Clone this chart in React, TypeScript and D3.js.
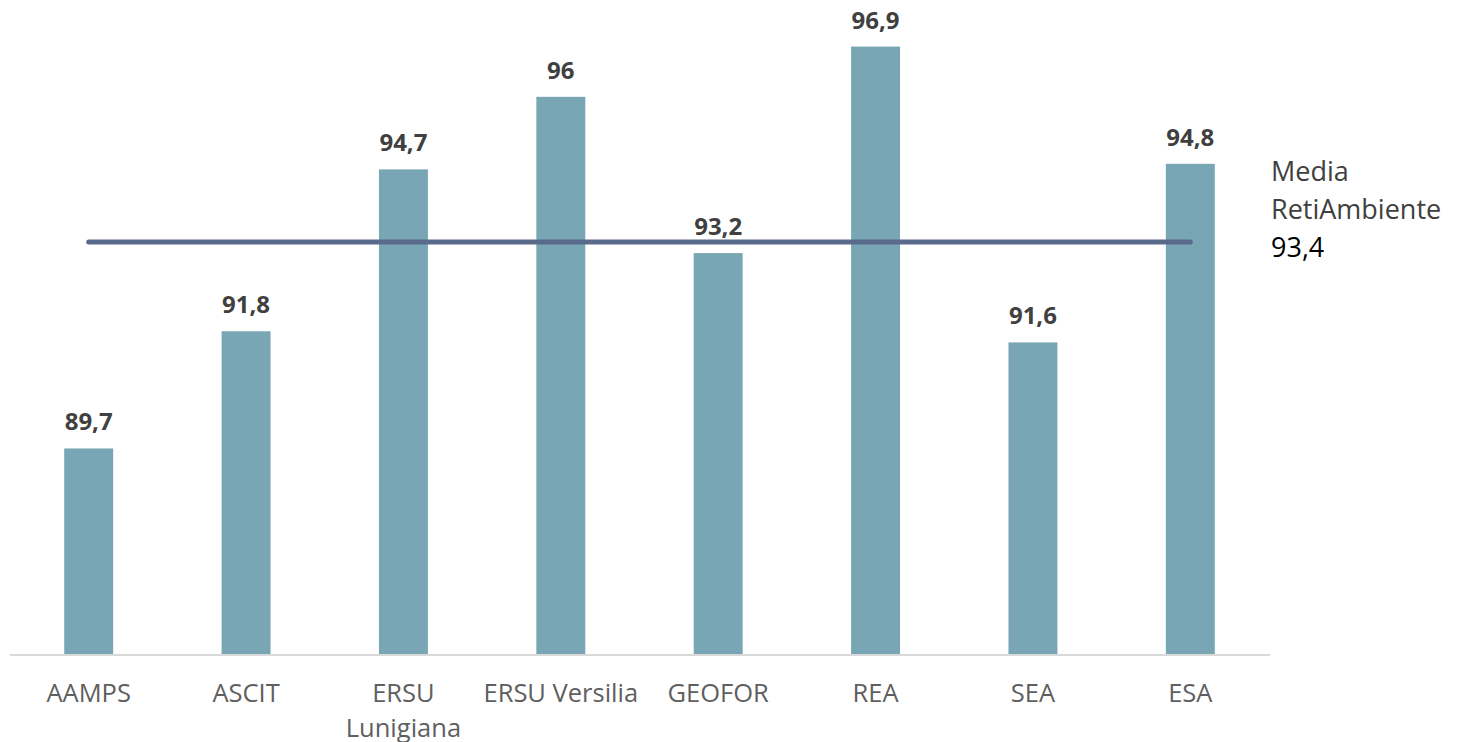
import * as d3 from "d3";

const categories = ["AAMPS", "ASCIT", "ERSU Lunigiana", "ERSU Versilia", "GEOFOR", "REA", "SEA", "ESA"];
// how the axis labels wrap
const categoryLines = [["AAMPS"], ["ASCIT"], ["ERSU", "Lunigiana"], ["ERSU Versilia"], ["GEOFOR"], ["REA"], ["SEA"], ["ESA"]];
const values = [89.7, 91.8, 94.7, 96, 93.2, 96.9, 91.6, 94.8];
const mean = 93.4;
const meanLabel = ["Media", "RetiAmbiente"];

const W = 1459;
const H = 742;
const fmt = (v: number) => String(v).replace(".", ",");

export default function App() {
  const x = d3.scaleBand<string>().domain(categories).range([10, 1269]).paddingInner(0.689).paddingOuter(0.3445);
  const y = d3.scaleLinear().domain([86, 97]).range([655, 41]);
  const font = "'Open Sans', sans-serif";

  const first = x(categories[0])! + x.bandwidth() / 2;
  const last = x(categories[categories.length - 1])! + x.bandwidth() / 2;

  return (
    <svg width={W} height={H} style={{ position: "absolute", left: 0, top: 0, background: "#fff" }}>
      {/* bars */}
      {values.map((v, i) => (
        <rect key={categories[i]} x={x(categories[i])} y={y(v)} width={x.bandwidth()} height={y(86) - y(v)} fill="#78a6b5" />
      ))}
      {/* value labels */}
      {values.map((v, i) => (
        <text
          key={"l" + i}
          x={x(categories[i])! + x.bandwidth() / 2}
          y={y(v) - 18}
          textAnchor="middle"
          fontFamily={font}
          fontWeight="bold"
          fontSize={24}
          fill="#404040"
        >
          {fmt(v)}
        </text>
      ))}
      {/* axis */}
      <line x1={10} x2={1270} y1={y(86)} y2={y(86)} stroke="#d9d9d9" strokeWidth={2} />
      {categoryLines.map((lines, i) => (
        <text key={"c" + i} textAnchor="middle" fontFamily={font} fontSize={25.5} fill="#5f5f5f">
          {lines.map((t, j) => (
            <tspan key={j} x={x(categories[i])! + x.bandwidth() / 2} y={702 + j * 35}>
              {t}
            </tspan>
          ))}
        </text>
      ))}
      {/* mean line */}
      <line x1={first} x2={last} y1={y(mean)} y2={y(mean)} stroke="#5a6a8a" strokeWidth={5} strokeLinecap="round" />
      <text fontFamily={font} fontSize={27} fill="#404040">
        <tspan x={1271} y={181}>{meanLabel[0]}</tspan>
        <tspan x={1271} y={219}>{meanLabel[1]}</tspan>
      </text>
      <text x={1271} y={257} fontFamily={font} fontSize={27} fill="#000">
        {fmt(mean)}
      </text>
    </svg>
  );
}
